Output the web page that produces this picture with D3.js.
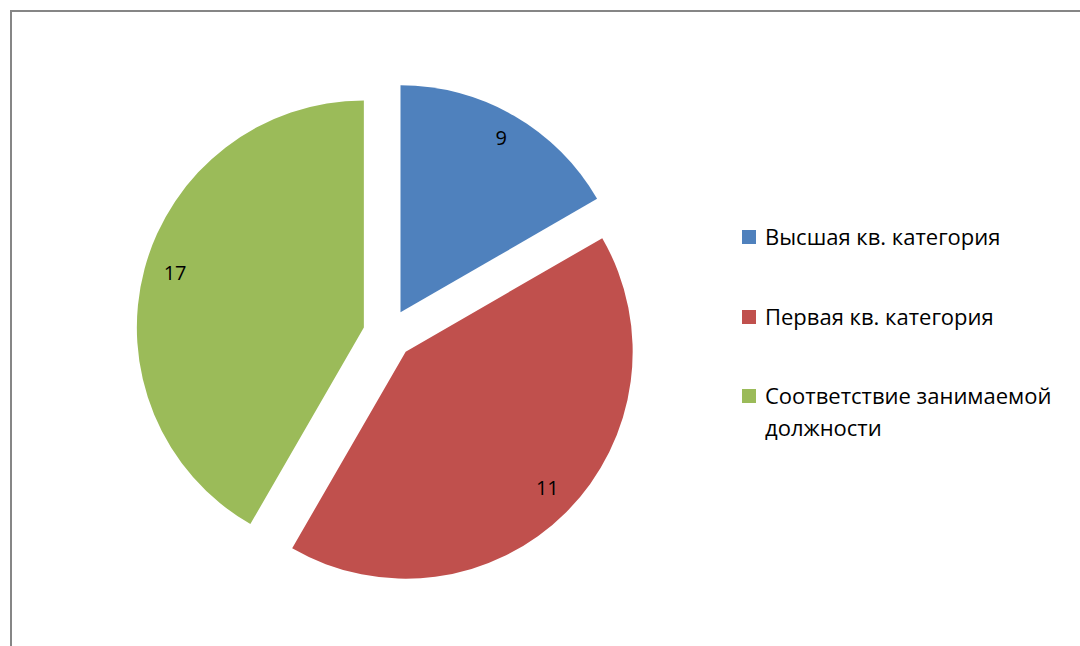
<!DOCTYPE html>
<html>
<head>
<meta charset="utf-8">
<script src="https://cdn.jsdelivr.net/npm/d3@7"></script>
<style>
  body { margin: 0; background: #fff; }
  svg { display: block; }
</style>
</head>
<body>
<div id="chart"></div>
<script>
// categories and values
var categories = ["Высшая кв. категория", "Первая кв. категория", "Соответствие занимаемой должности"];
var labels = [9, 11, 17];
// slice sizes as drawn in the picture (degrees of the circle)
var shares = [60, 150, 150];
var colors = ["#4f81bd", "#c0504d", "#9bbb59"];

var width = 1080, height = 646;
var cx = 388, cy = 334, radius = 227, explode = 25;

var svg = d3.select("#chart").append("svg")
    .attr("width", width)
    .attr("height", height);

// chart frame (runs off the right and bottom edge)
svg.append("rect")
    .attr("x", 11)
    .attr("y", 11)
    .attr("width", width + 20)
    .attr("height", height + 20)
    .attr("fill", "#fff")
    .attr("stroke", "#868686")
    .attr("stroke-width", 2);

var data = categories.map(function (c, i) {
    return { name: c, label: labels[i], share: shares[i], color: colors[i] };
});

var pie = d3.pie()
    .sort(null)
    .value(function (d) { return d.share; });

var arc = d3.arc()
    .innerRadius(0)
    .outerRadius(radius);

var labelArc = d3.arc()
    .innerRadius(radius * 0.87)
    .outerRadius(radius * 0.87);

var g = svg.append("g")
    .attr("transform", "translate(" + cx + "," + cy + ")");

var slices = g.selectAll(".slice")
    .data(pie(data))
    .enter().append("g")
    .attr("class", "slice")
    .attr("transform", function (d) {
        var a = (d.startAngle + d.endAngle) / 2;
        return "translate(" + (Math.sin(a) * explode) + "," + (-Math.cos(a) * explode) + ")";
    });

slices.append("path")
    .attr("d", arc)
    .attr("fill", function (d) { return d.data.color; });

slices.append("text")
    .attr("transform", function (d) {
        var c = labelArc.centroid(d);
        return "translate(" + (c[0] + 2) + "," + (c[1] - 3) + ")";
    })
    .attr("text-anchor", "middle")
    .attr("dy", "0.35em")
    .style("font-family", "'Open Sans', 'Noto Sans', sans-serif")
    .style("font-size", "20px")
    .attr("fill", "#000")
    .text(function (d) { return d.data.label; });

// legend
var legend = svg.append("g")
    .attr("transform", "translate(742,0)");

var legendY = [237, 317, 396];
var lines = [["Высшая кв. категория"], ["Первая кв. категория"], ["Соответствие занимаемой", "должности"]];

var item = legend.selectAll(".item")
    .data(data)
    .enter().append("g")
    .attr("class", "item")
    .attr("transform", function (d, i) { return "translate(0," + legendY[i] + ")"; });

item.append("rect")
    .attr("x", 0)
    .attr("y", -7)
    .attr("width", 14)
    .attr("height", 14)
    .attr("fill", function (d) { return d.color; });

item.append("text")
    .attr("x", 23)
    .style("font-family", "'Open Sans', 'Noto Sans', sans-serif")
    .style("font-size", "22px")
    .attr("fill", "#000")
    .selectAll("tspan")
    .data(function (d, i) { return lines[i]; })
    .enter().append("tspan")
    .attr("x", 23)
    .attr("y", function (d, j) { return j * 32; })
    .attr("dy", "0.35em")
    .text(function (d) { return d; });
</script>
</body>
</html>
